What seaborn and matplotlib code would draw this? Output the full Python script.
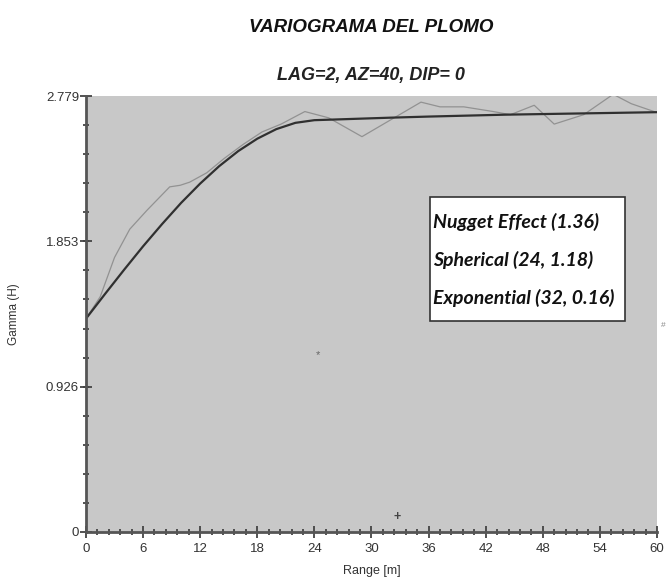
import seaborn as sns
import matplotlib.pyplot as plt
import matplotlib.patches as patches
from matplotlib.ticker import MultipleLocator, FixedLocator
import pandas as pd

lag_exp = [0, 1.5, 3.0, 4.6, 6.4, 8.8, 9.9, 10.9, 12.7, 14.5, 16.5, 18.5, 20.5, 23.0,
           25.5, 29.0, 35.2, 37.2, 39.7, 42.8, 44.6, 47.1, 49.2, 52.3, 55.4, 57.3, 59.7]
gamma_exp = [1.36, 1.50, 1.75, 1.93, 2.05, 2.20, 2.21, 2.23, 2.29, 2.38, 2.47, 2.55, 2.60, 2.68,
             2.64, 2.52, 2.74, 2.71, 2.71, 2.68, 2.66, 2.72, 2.60, 2.66, 2.79, 2.73, 2.68]

# fitted model (thick dark line)
lag_mod = [0, 2, 4, 6, 8, 10, 12, 14, 16, 18, 20, 22, 24, 28, 32, 36, 40, 44, 48, 52, 56, 60]
gamma_mod = [1.360, 1.517, 1.671, 1.821, 1.963, 2.098, 2.221, 2.332, 2.428, 2.507, 2.568,
             2.608, 2.625, 2.633, 2.641, 2.648, 2.654, 2.660, 2.664, 2.668, 2.672, 2.676]

yticks = [0, 0.926, 1.853, 2.779]
ytick_labels = ['0', '0.926', '1.853', '2.779']
legend_lines = ['Nugget Effect (1.36)', 'Spherical (24, 1.18)', 'Exponential (32, 0.16)']

df_exp = pd.DataFrame({'Range': lag_exp, 'Gamma': gamma_exp})
df_mod = pd.DataFrame({'Range': lag_mod, 'Gamma': gamma_mod})

plt.rcParams['font.family'] = ['Liberation Sans', 'DejaVu Sans']

fig = plt.figure(figsize=(6.68, 5.83), dpi=100)
ax = fig.add_axes([0.1287, 0.0875, 0.8548, 0.7478])
ax.set_facecolor('#c8c8c8')

sns.lineplot(x='Range', y='Gamma', data=df_exp, ax=ax, color='#929292', linewidth=0.9)
sns.lineplot(x='Range', y='Gamma', data=df_mod, ax=ax, color='#303030', linewidth=1.6)

# stray markers
ax.text(24.4, 1.13, '*', fontsize=8, color='#666666', ha='center', va='center')
ax.text(32.7, 0.096, '+', fontsize=9, color='#444444', ha='center', va='center',
        fontweight='bold')

ax.set_xlim(0, 60)
ax.set_ylim(0, 2.779)
ax.xaxis.set_major_locator(MultipleLocator(6))
ax.xaxis.set_minor_locator(MultipleLocator(1.2))
ax.yaxis.set_major_locator(FixedLocator(yticks))
ax.set_yticklabels(ytick_labels)
ax.yaxis.set_minor_locator(MultipleLocator(2.779 / 15))

for s in ['top', 'right']:
    ax.spines[s].set_visible(False)
for s in ['left', 'bottom']:
    ax.spines[s].set_color('#555555')
    ax.spines[s].set_linewidth(2)

ax.tick_params(which='major', direction='inout', length=8, width=1.3, color='#444444',
               labelsize=9.5, labelcolor='#333333')
ax.tick_params(axis='y', which='major', pad=1)
ax.tick_params(axis='x', which='major', pad=4)
ax.tick_params(which='minor', direction='inout', length=5, width=1.3, color='#444444')

ax.set_xlabel('Range [m]', fontsize=9, color='#333333', labelpad=7)
ax.set_ylabel('Gamma (H)', fontsize=8.5, color='#333333')
ax.yaxis.set_label_coords(-0.115, 0.5)

# legend box
box = patches.Rectangle((0.602, 0.484), 0.342, 0.284, transform=ax.transAxes,
                        facecolor='white', edgecolor='#333333', linewidth=1.2, zorder=5)
ax.add_patch(box)
for i, t in enumerate(legend_lines):
    ax.text(0.607, 0.711 - i * 0.087, t, transform=ax.transAxes, fontsize=14,
            fontstyle='italic', fontweight='bold', family=['Lato', 'DejaVu Sans'],
            color='#111111', va='center', ha='left', zorder=6)

fig.text(0.556, 0.953, 'VARIOGRAMA DEL PLOMO', ha='center', va='center', fontsize=13.5,
         fontstyle='italic', fontweight='bold', color='#111111')
fig.text(0.556, 0.870, 'LAG=2, AZ=40, DIP= 0', ha='center', va='center', fontsize=13,
         fontstyle='italic', fontweight='bold', color='#222222')
fig.text(0.9925, 0.4425, '#', ha='center', va='center', fontsize=6, color='#888888')

fig.savefig('out.png', dpi=100)
